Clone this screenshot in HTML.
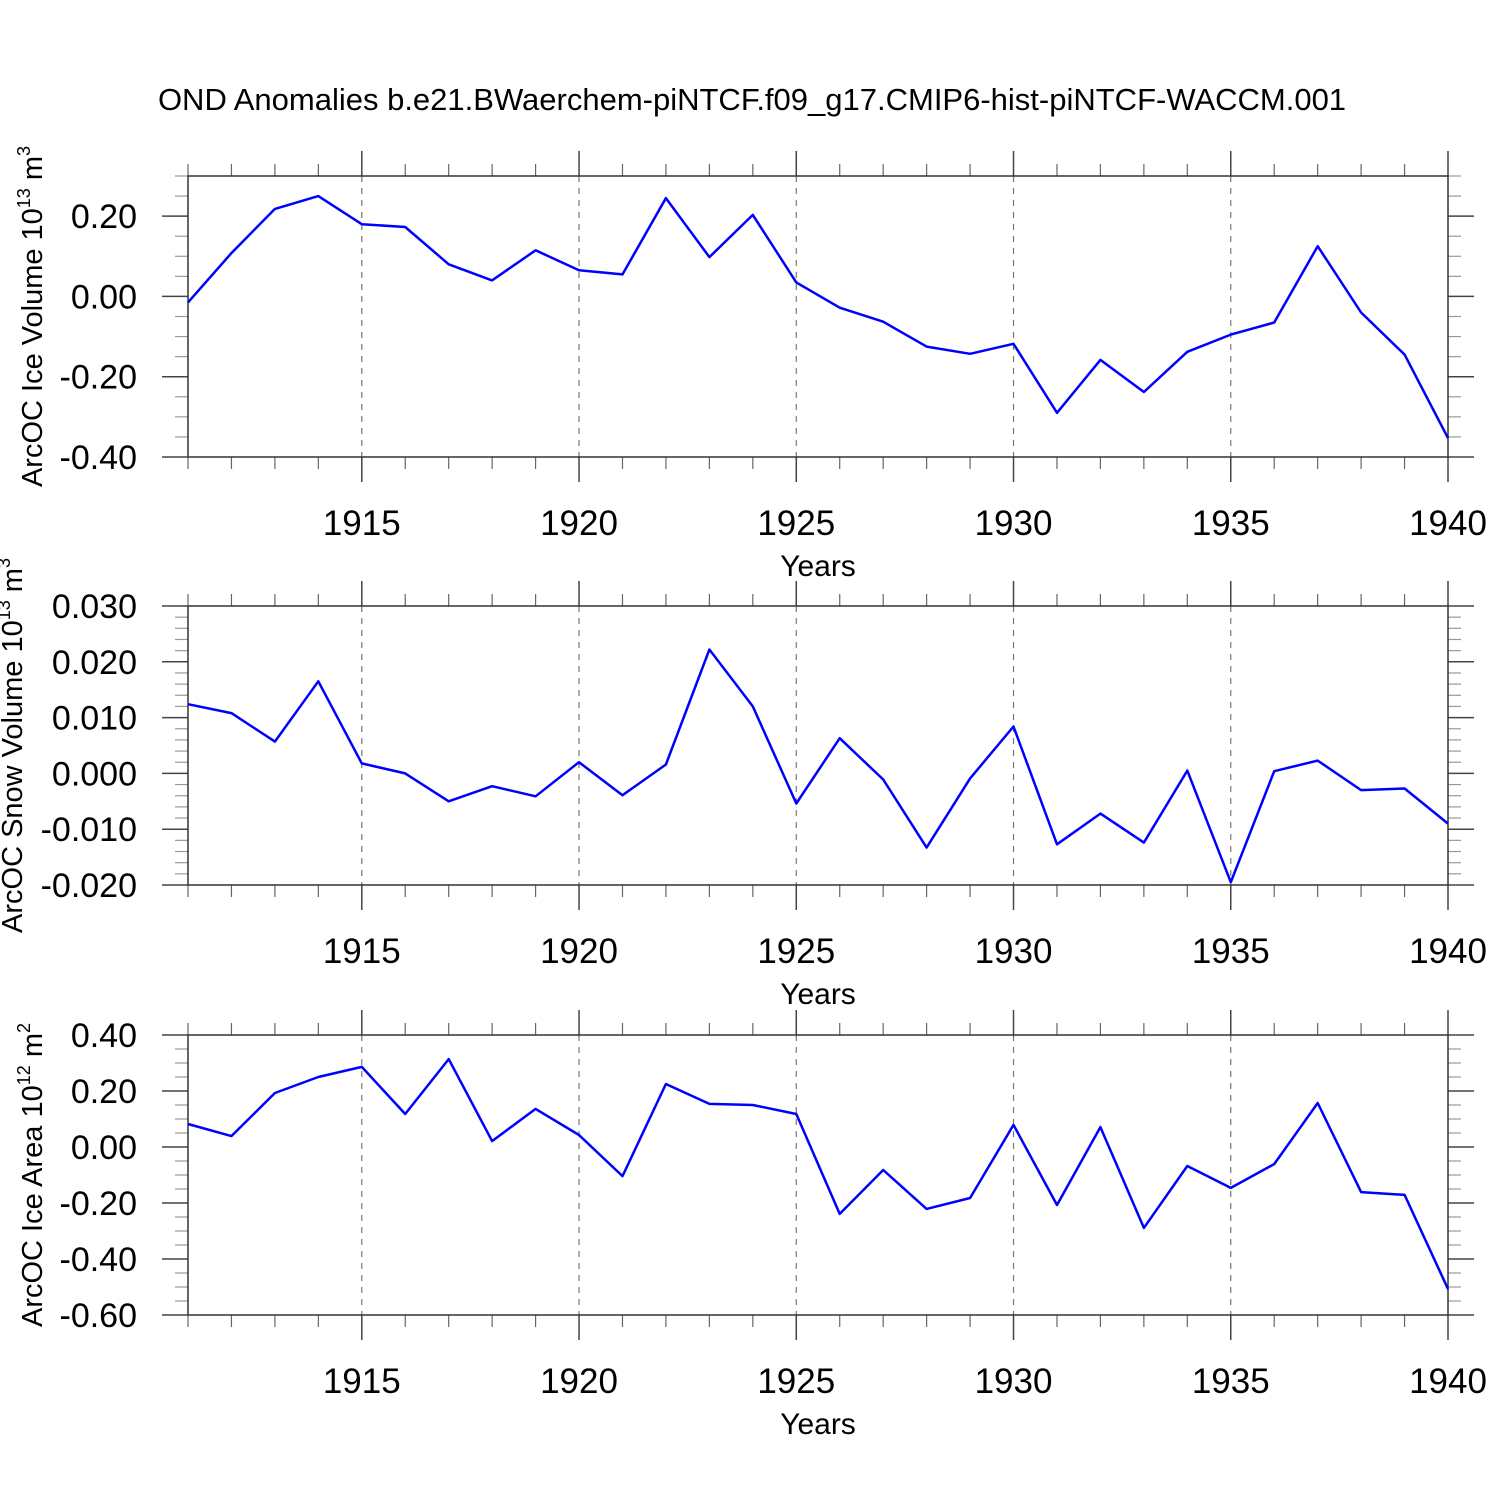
<!DOCTYPE html>
<html><head><meta charset="utf-8"><style>
html,body{margin:0;padding:0;background:#fff;}
svg{display:block;font-family:"Liberation Sans",sans-serif;}
</style></head><body>
<svg id="c" width="1500" height="1500" viewBox="0 0 1500 1500">
<text x="752" y="110" font-size="31" text-anchor="middle">OND Anomalies b.e21.BWaerchem-piNTCF.f09_g17.CMIP6-hist-piNTCF-WACCM.001</text>
</svg>
<script>
const years = [1911,1912,1913,1914,1915,1916,1917,1918,1919,1920,1921,1922,1923,1924,1925,1926,1927,1928,1929,1930,1931,1932,1933,1934,1935,1936,1937,1938,1939,1940];
const iceVolume = [-0.015,0.108,0.218,0.25,0.18,0.173,0.08,0.04,0.115,0.065,0.055,0.245,0.098,0.203,0.035,-0.028,-0.063,-0.125,-0.143,-0.118,-0.29,-0.158,-0.238,-0.138,-0.095,-0.065,0.125,-0.04,-0.145,-0.353];
const snowVolume = [0.0124,0.0108,0.0057,0.0165,0.0018,0.0000,-0.0050,-0.0023,-0.0041,0.0020,-0.0039,0.0016,0.0222,0.0120,-0.0054,0.0063,-0.0011,-0.0133,-0.0009,0.0084,-0.0127,-0.0072,-0.0124,0.0005,-0.0195,0.0004,0.0023,-0.0030,-0.0027,-0.0090];
const iceArea = [0.082,0.039,0.193,0.25,0.286,0.118,0.314,0.021,0.136,0.043,-0.104,0.225,0.154,0.15,0.118,-0.239,-0.082,-0.221,-0.182,0.079,-0.207,0.071,-0.289,-0.068,-0.146,-0.061,0.157,-0.161,-0.171,-0.507];
const xTicks = [1915,1920,1925,1930,1935,1940];
const ticks1 = [0.2,0,-0.2,-0.4], labels1 = ["0.20","0.00","-0.20","-0.40"];
const ticks2 = [0.03,0.02,0.01,0,-0.01,-0.02], labels2 = ["0.030","0.020","0.010","0.000","-0.010","-0.020"];
const ticks3 = [0.4,0.2,0,-0.2,-0.4,-0.6], labels3 = ["0.40","0.20","0.00","-0.20","-0.40","-0.60"];

const svg = document.getElementById('c');
const NS = 'http://www.w3.org/2000/svg';
function mk(tag, attrs, parent){const e=document.createElementNS(NS,tag);for(const k in attrs)e.setAttribute(k,attrs[k]);(parent||svg).appendChild(e);return e;}
const X0=188,X1=1448;
const xs = y => X0 + (y-1911)/(1940-1911)*(X1-X0);

function panel(id, top, bot, ymin, ymax, minorStep, data, ticks, labels, titleMain, sup, unit, unitSup, titleX){
  const g = mk('g',{});
  
  
  const ys = v => bot - (v-ymin)/(ymax-ymin)*(bot-top);
  xTicks.forEach(t=>{ if(t<1940){const l=mk('line',{x1:xs(t),x2:xs(t),y1:top,y2:bot,stroke:'#777','stroke-width':1.2,'stroke-dasharray':'6,6'},g);
     }});
  years.forEach(y=>{ const maj = xTicks.includes(y);
    mk('line',{x1:xs(y),x2:xs(y),y1:top-(maj?25:12),y2:top,stroke:maj?'#444':'#666','stroke-width':maj?1.5:1.2},g);
    mk('line',{x1:xs(y),x2:xs(y),y1:bot,y2:bot+(maj?25:12),stroke:maj?'#444':'#666','stroke-width':maj?1.5:1.2},g);
  });
  const n = Math.round((ymax-ymin)/minorStep);
  for(let i=0;i<=n;i++){const v=ymin+i*minorStep;const yy=ys(v);
    const maj = ticks.some(t=>Math.abs(t-v)<minorStep/10);
    const len = maj?26:13;
    mk('line',{x1:X0-len,x2:X0,y1:yy,y2:yy,stroke:maj?'#444':'#999','stroke-width':maj?1.5:1.2},g);
    mk('line',{x1:X1,x2:X1+len,y1:yy,y2:yy,stroke:maj?'#444':'#999','stroke-width':maj?1.5:1.2},g);
  }
  const box = mk('rect',{x:X0,y:top,width:X1-X0,height:bot-top,fill:'none',stroke:'#333','stroke-width':1.5},g);
   
  ticks.forEach((t,i)=>{const tx=mk('text',{x:137,y:ys(t)+12,'font-size':34,'text-anchor':'end'},g);tx.textContent=labels[i];
     });
  xTicks.forEach(t=>{const tx=mk('text',{x:xs(t),y:bot+78,'font-size':35,'text-anchor':'middle'},g);tx.textContent=t;
     });
  const xt = mk('text',{x:818,y:bot+119,'font-size':30,'text-anchor':'middle'},g); xt.textContent='Years';
   
  const cy=(top+bot)/2;
  const yt = mk('text',{x:0,y:0,'font-size':29,'text-anchor':'middle',transform:`translate(${titleX},${cy}) rotate(-90)`},g);
   
  const parts=[[titleMain,0],[sup,-10],[unit,0],[unitSup,-10]];
  parts.forEach(([s,dy],i)=>{const sp=mk('tspan',{},yt); sp.textContent=s; if(i%2==1){sp.setAttribute('font-size',18);sp.setAttribute('dy',-12);} else if(i>0){sp.setAttribute('dy',12);} });
  const pts = data.map((v,i)=>xs(years[i]).toFixed(1)+','+ys(v).toFixed(1)).join(' ');
  const pl = mk('polyline',{points:pts,fill:'none',stroke:'#0000ff','stroke-width':2.5,'stroke-linejoin':'round'},g);
   
}
panel('ice-volume',176,457,-0.4,0.3,0.05,iceVolume,ticks1,labels1,'ArcOC Ice Volume 10','13',' m','3',42);
panel('snow-volume',606,885,-0.02,0.03,0.002,snowVolume,ticks2,labels2,'ArcOC Snow Volume 10','13',' m','3',22);
panel('ice-area',1035,1315,-0.6,0.4,0.05,iceArea,ticks3,labels3,'ArcOC Ice Area 10','12',' m','2',42);
</script>
</body></html>
